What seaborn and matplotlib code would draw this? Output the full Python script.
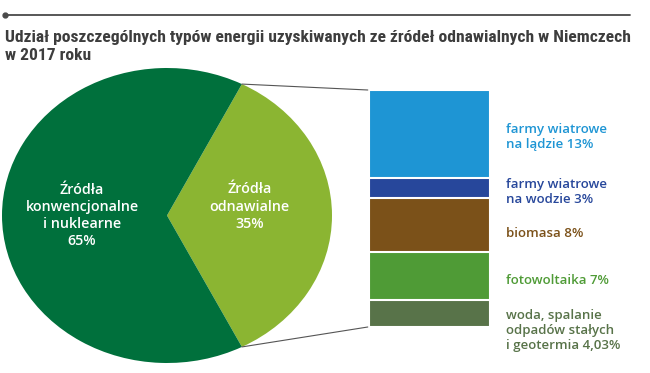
import matplotlib.pyplot as plt
import seaborn as sns
import pandas as pd
import numpy as np
from matplotlib.patches import ConnectionPatch
from matplotlib.lines import Line2D

# --- data ---
title = ("Udział poszczególnych typów energii uzyskiwanych ze źródeł odnawialnych w Niemczech\n"
         "w 2017 roku")
pie_labels = ["Źródła\nodnawialne\n35%", "Źródła\nkonwencjonalne\ni nuklearne\n65%"]
pie_values = [35, 65]
pie_colors = ["#8bb532", "#00703c"]

# renewable breakdown, top to bottom
parts = ["farmy wiatrowe\nna lądzie 13%", "farmy wiatrowe\nna wodzie 3%", "biomasa 8%",
         "fotowoltaika 7%", "woda, spalanie\nodpadów stałych\ni geotermia 4,03%"]
part_values = [13, 3, 8, 7, 4.03]
part_colors = ["#1e95d4", "#27479b", "#7b5119", "#4f9b36", "#587349"]
# small vertical nudges (points) for the labels on the right
label_nudge = [-2, -3, -6, -3, -12]

sns.set_theme(style="white")
plt.rcParams['font.family'] = ['Open Sans', 'DejaVu Sans']

fig = plt.figure(figsize=(6.5, 3.73), dpi=100)
W, H = 650, 373

def px_axes(x0, y0, x1, y1):
    return fig.add_axes([x0 / W, 1 - y1 / H, (x1 - x0) / W, (y1 - y0) / H])

# --- pie ---
ax_pie = px_axes(2, 68, 332, 363)
half = pie_values[0] / 100 * 180
wedges, _ = ax_pie.pie(pie_values, colors=pie_colors, startangle=-half, radius=1,
                       wedgeprops=dict(linewidth=0))
ax_pie.set_aspect('auto')
ax_pie.set_xlim(-1, 1)
ax_pie.set_ylim(-1, 1)
ax_pie.text(0.5, 0.06, pie_labels[0], color="white", ha="center", va="center",
            fontsize=10.3, fontweight="semibold", linespacing=1.3)
ax_pie.text(-0.515, 0.0, pie_labels[1], color="white", ha="center", va="center",
            fontsize=10.3, fontweight="semibold", linespacing=1.3)

# --- stacked bar (drawn as overlapping cumulative bars) ---
ax_bar = px_axes(369, 90, 490, 327)
total = sum(part_values)
cum = list(np.cumsum(part_values[::-1])[::-1])  # top of each part, same order as parts
for top, color in zip(cum, part_colors):
    df = pd.DataFrame({"x": [0], "y": [top]})
    sns.barplot(data=df, x="x", y="y", color=color, width=1, saturation=1,
                edgecolor="white", linewidth=1.5, ax=ax_bar)
ax_bar.set_xlim(-0.5, 0.5)
ax_bar.set_ylim(0, total)
ax_bar.axis("off")

for top, v, name, color, dy in zip(cum, part_values, parts, part_colors, label_nudge):
    ax_bar.annotate(name, xy=(0.5, top - v / 2), xytext=(11.5, dy), textcoords="offset points",
                    color=color, ha="left", va="center", fontsize=9.5, fontweight="semibold",
                    linespacing=1.2, annotation_clip=False)

# connector lines from the renewable wedge to the bar
a = np.deg2rad(half)
for sgn, ybar in [(1, total), (-1, 0)]:
    con = ConnectionPatch(xyA=(np.cos(a), sgn * np.sin(a)), coordsA=ax_pie.transData,
                          xyB=(-0.51, ybar), coordsB=ax_bar.transData,
                          color="#555555", linewidth=0.8)
    fig.add_artist(con)

# header rule and title
fig.add_artist(Line2D([5 / W, 630 / W], [1 - 15 / H] * 2, color="#4a4a4a", linewidth=1.3))
fig.add_artist(Line2D([5 / W], [1 - 15 / H], marker="o", markersize=3.5, color="#4a4a4a"))
fig.text(5 / W, 1 - 30 / H, title, ha="left", va="top", fontsize=12.6, fontweight="bold",
         color="#3d3d3d", linespacing=1.25,
         family=['Roboto Condensed', 'Open Sans Condensed', 'Liberation Sans Narrow', 'Lato'])

fig.savefig("out.png", dpi=100)
